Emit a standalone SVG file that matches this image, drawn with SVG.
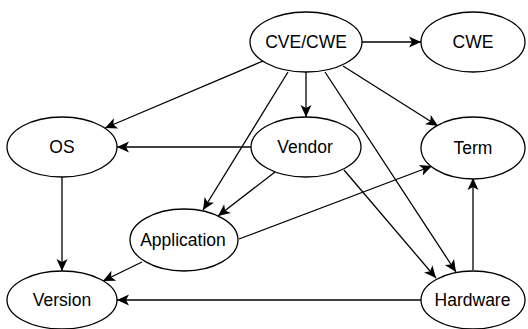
<svg xmlns="http://www.w3.org/2000/svg" width="528" height="329" viewBox="0 0 528 329">
<style>
.n ellipse{fill:#fff;stroke:#000;stroke-width:1.3}
.n text{font-family:"Liberation Sans",Arial,sans-serif;font-size:17.5px;text-anchor:middle;fill:#000}
.e line{stroke:#000;stroke-width:1.3;marker-end:url(#a)}
</style>
<defs>
<marker id="a" markerUnits="userSpaceOnUse" markerWidth="12" markerHeight="11" refX="12" refY="5.5" orient="auto" overflow="visible">
<path d="M0,0 L12,5.5 L0,11 L3,5.5 Z" fill="#000"/>
</marker>
</defs>
<rect width="528" height="329" fill="#fff"/>
<g class="e" id="connectors">
<line x1="362" y1="42" x2="421" y2="42"/>
<line x1="263" y1="61" x2="105" y2="128"/>
<line x1="306" y1="72" x2="306" y2="117"/>
<line x1="343" y1="66" x2="438" y2="126"/>
<line x1="288" y1="72" x2="203" y2="210"/>
<line x1="325" y1="72" x2="456" y2="272"/>
<line x1="251" y1="147" x2="117" y2="147"/>
<line x1="275" y1="172" x2="218" y2="216"/>
<line x1="344" y1="170" x2="436" y2="278"/>
<line x1="239" y1="239" x2="432" y2="166"/>
<line x1="142" y1="262" x2="103" y2="281"/>
<line x1="62" y1="177" x2="62" y2="271"/>
<line x1="421" y1="300" x2="117" y2="300"/>
<line x1="473" y1="270" x2="473" y2="178"/>
</g>
<g class="n" id="cvecwe"><ellipse cx="306" cy="42" rx="56" ry="30"/><text x="306" y="48.3">CVE/CWE</text></g>
<g class="n" id="cwe"><ellipse cx="473" cy="42" rx="52" ry="30"/><text x="473" y="48.3">CWE</text></g>
<g class="n" id="os"><ellipse cx="62" cy="147" rx="55" ry="30"/><text x="62" y="153.3">OS</text></g>
<g class="n" id="vendor"><ellipse cx="306" cy="147" rx="55" ry="30"/><text x="305" y="153.3">Vendor</text></g>
<g class="n" id="term"><ellipse cx="473" cy="148" rx="52" ry="31"/><text x="473" y="154.3">Term</text></g>
<g class="n" id="application"><ellipse cx="184" cy="240" rx="54" ry="31"/><text x="183" y="246.3">Application</text></g>
<g class="n" id="version"><ellipse cx="62" cy="300" rx="55" ry="29"/><text x="62" y="306.3">Version</text></g>
<g class="n" id="hardware"><ellipse cx="473" cy="300" rx="52" ry="29"/><text x="472.5" y="306.3">Hardware</text></g>
</svg>
